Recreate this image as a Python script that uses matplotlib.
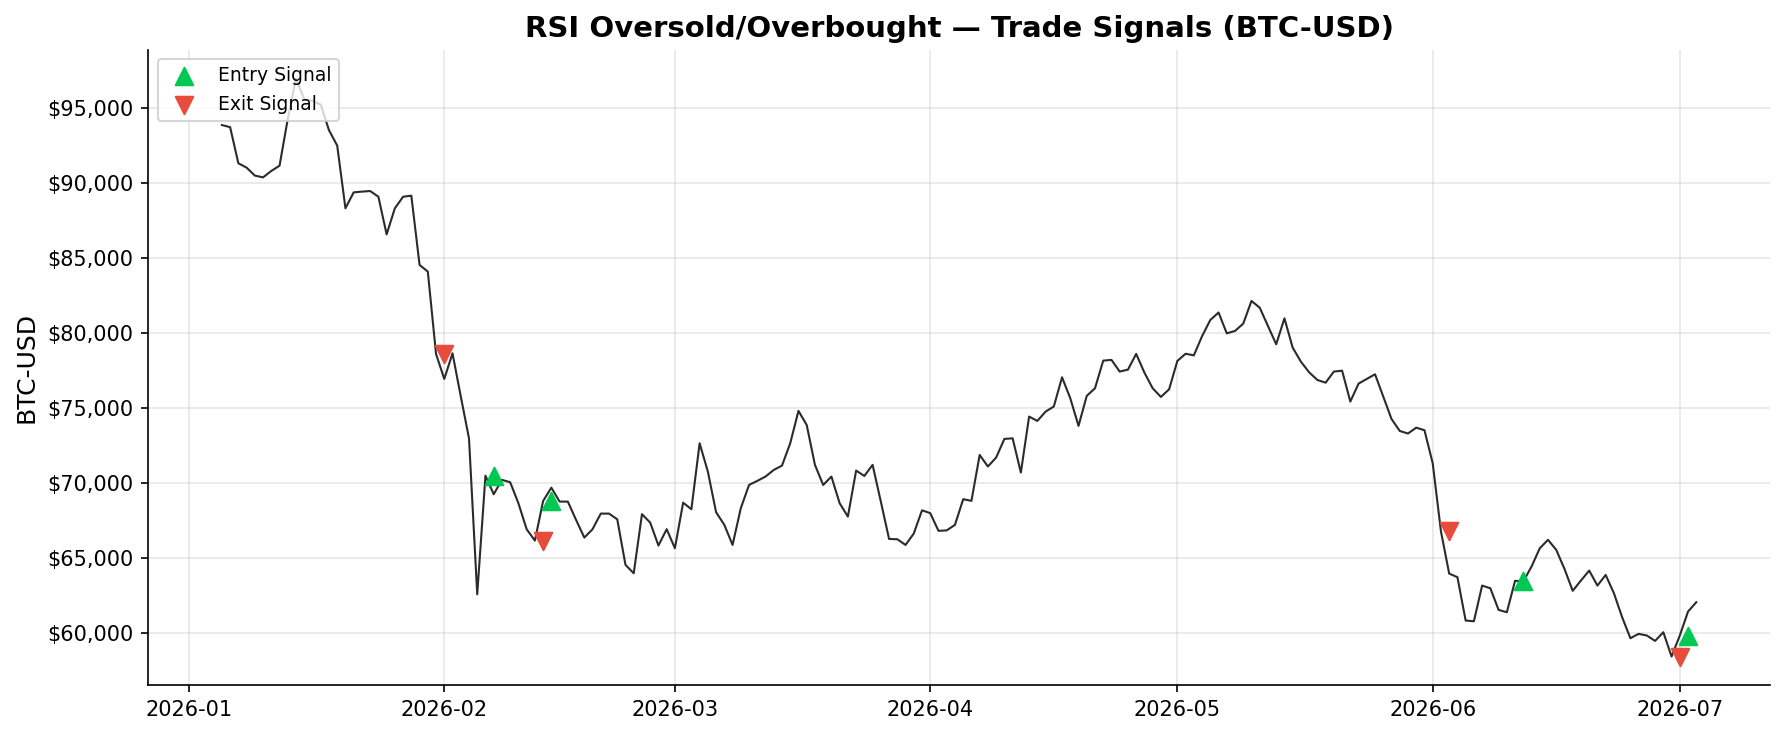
import matplotlib
matplotlib.use("Agg")
import matplotlib.pyplot as plt
import matplotlib.ticker as mticker
import pandas as pd

# daily close, 2026-01-05 .. 2026-07-03
start_date = "2026-01-05"
close = [
    93890, 93750, 91340, 91050, 90520, 90400, 90830, 91180, 94300, 97000,
    95600, 95500, 95250, 93550, 92520, 88340, 89400, 89450, 89490, 89110,
    86600, 88340, 89110, 89180, 84560, 84120, 78620, 76960, 78670, 75800,
    73000, 62600, 70510, 69270, 70230, 70070, 68670, 66940, 66180, 68820,
    69710, 68780, 68780, 67560, 66380, 66940, 67980, 67980, 67600, 64560,
    64000, 67940, 67380, 65850, 66940, 65670, 68710, 68270, 72670, 70780,
    68070, 67230, 65890, 68340, 69890, 70160, 70450, 70890, 71180, 72670,
    74830, 73890, 71230, 69890, 70450, 68670, 67780, 70850, 70490, 71230,
    68780, 66290, 66270, 65890, 66650, 68200, 68010, 66830, 66860, 67230,
    68940, 68830, 71890, 71120, 71720, 72960, 73000, 70720, 74450, 74160,
    74780, 75120, 77070, 75670, 73830, 75830, 76340, 78180, 78230, 77450,
    77580, 78630, 77380, 76340, 75760, 76270, 78160, 78640, 78530, 79810,
    80890, 81390, 80000, 80160, 80650, 82160, 81710, 80490, 79270, 81000,
    79050, 78110, 77400, 76890, 76710, 77450, 77510, 75450, 76650, 76960,
    77270, 75780, 74290, 73490, 73320, 73710, 73540, 71340, 66800, 63980,
    63740, 60850, 60800, 63180, 63000, 61560, 61400, 63500, 63450, 64450,
    65670, 66230, 65560, 64290, 62830, 63520, 64180, 63180, 63890, 62670,
    61070, 59670, 59960, 59850, 59490, 60070, 58450, 59850, 61450, 62070,
]

entry_dates = ["2026-02-07", "2026-02-14", "2026-06-12", "2026-07-02"]
entry_prices = [70510, 68820, 63500, 59850]
exit_dates = ["2026-02-01", "2026-02-13", "2026-06-03", "2026-07-01"]
exit_prices = [78620, 66180, 66800, 58450]

dates = pd.date_range(start_date, periods=len(close), freq="D")

fig, ax = plt.subplots(figsize=(12, 5), dpi=150)
ax.plot(dates, close, color="#2b2b2b", linewidth=1.0, zorder=2)
ax.scatter(pd.to_datetime(entry_dates), entry_prices, marker="^", s=70,
           color="#00c853", label="Entry Signal", zorder=3)
ax.scatter(pd.to_datetime(exit_dates), exit_prices, marker="v", s=70,
           color="#e74c3c", label="Exit Signal", zorder=3)

ax.set_title("RSI Oversold/Overbought \u2014 Trade Signals (BTC-USD)",
             fontsize=14, fontweight="bold")
ax.set_ylabel("BTC-USD", fontsize=12)
ax.yaxis.set_major_formatter(mticker.StrMethodFormatter("${x:,.0f}"))
ax.grid(True, alpha=0.3)
ax.spines["top"].set_visible(False)
ax.spines["right"].set_visible(False)
ax.legend(loc="upper left", fontsize=9)

plt.tight_layout()
plt.savefig("out.png", dpi=150, bbox_inches="tight")
